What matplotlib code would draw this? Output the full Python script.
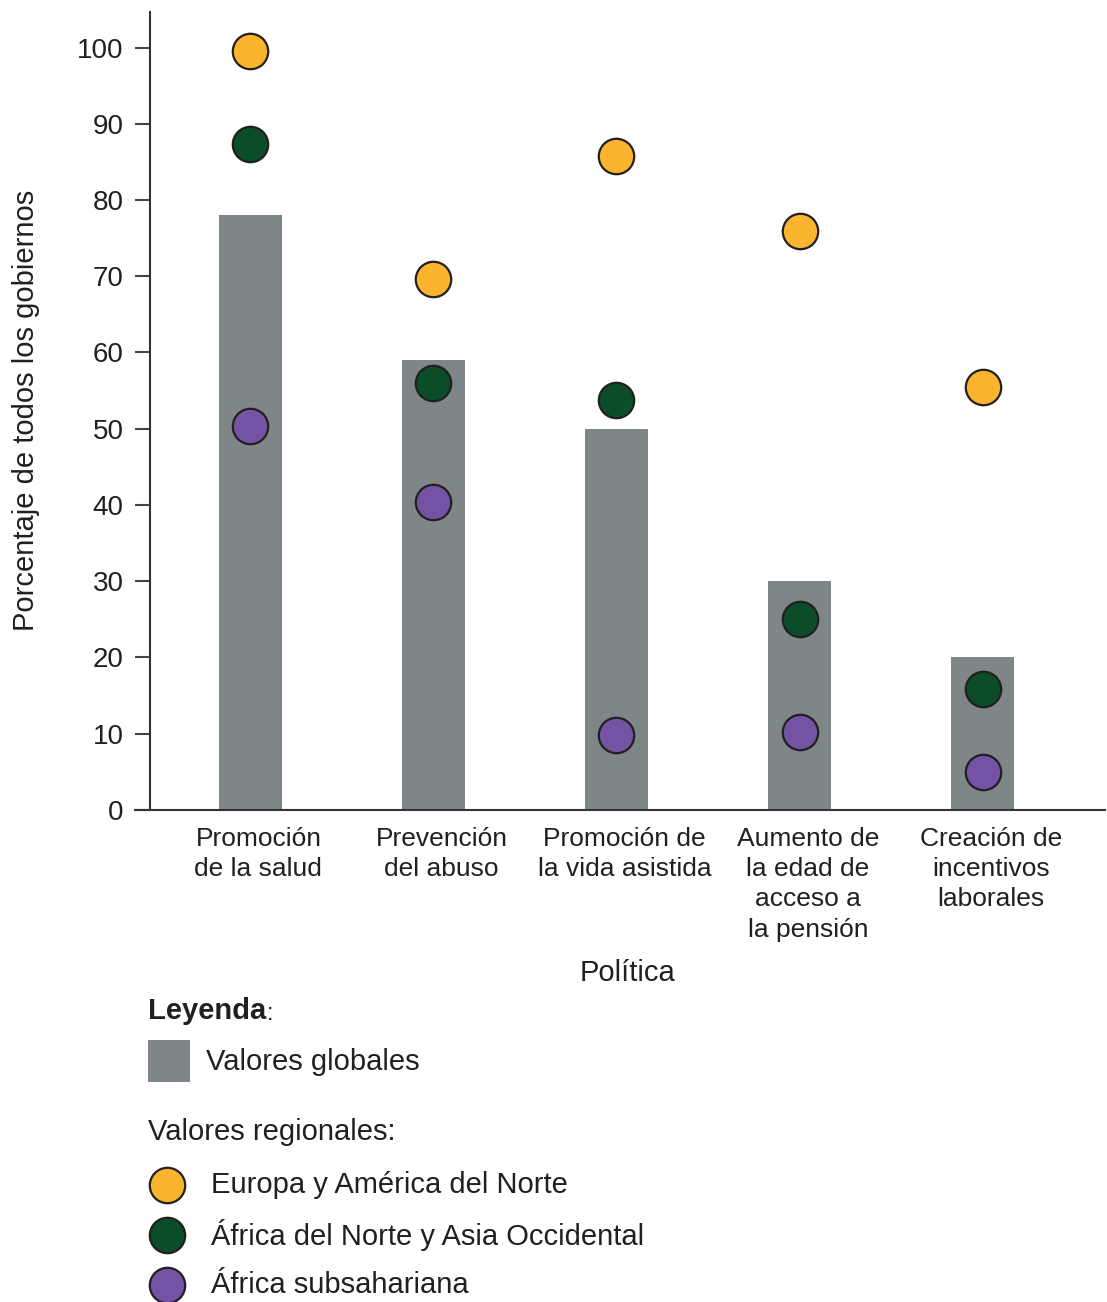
"""Políticas de envejecimiento: valores globales y regionales."""
import matplotlib
matplotlib.use("Agg")
import matplotlib.pyplot as plt
from matplotlib.lines import Line2D
from matplotlib.patches import Rectangle
import numpy as np

plt.rcParams["font.family"] = ["Liberation Sans", "DejaVu Sans"]

categorias = [
    "Promoción\nde la salud",
    "Prevención\ndel abuso",
    "Promoción de\nla vida asistida",
    "Aumento de\nla edad de\nacceso a\nla pensión",
    "Creación de\nincentivos\nlaborales",
]
globales = [78, 59, 50, 30, 20]
europa = [99.6, 69.6, 85.8, 75.9, 55.5]
africa_norte = [87.4, 56.0, 53.8, 25.0, 15.9]
subsahariana = [50.3, 40.4, 9.8, 10.2, 5.0]

GRIS = "#7f8688"
AMARILLO = "#fbb42d"
VERDE = "#0b4d28"
MORADO = "#7452a4"
TINTA = "#231f20"

fig = plt.figure(figsize=(11.07, 13.02), dpi=100)
ax = fig.add_axes([0.1355, 0.378, 0.8625, 0.613])

x = np.arange(len(categorias))
ax.bar(x, globales, width=0.344, color=GRIS, zorder=1)
for serie, color in [(europa, AMARILLO), (africa_norte, VERDE), (subsahariana, MORADO)]:
    ax.plot(x, serie, "o", ms=25.5, mfc=color, mec=TINTA, mew=1.6, ls="none", zorder=3)

ax.set_xlim(-0.547, 4.666)
ax.set_ylim(0, 104.7)
ax.set_yticks(range(0, 101, 10))
# las etiquetas del original quedan un poco a la derecha de cada barra
ax.set_xticks(x + 0.045)
ax.set_xticklabels(categorias, fontsize=19, color=TINTA, linespacing=1.34)
ax.tick_params(axis="x", length=0, pad=12)
ax.tick_params(axis="y", length=11, width=1.5, color="#444444", labelsize=20,
               labelcolor=TINTA, pad=8)
for s in ["top", "right"]:
    ax.spines[s].set_visible(False)
for s in ["left", "bottom"]:
    ax.spines[s].set_linewidth(1.5)
    ax.spines[s].set_color("#333333")
ax.spines["bottom"].set_bounds(-0.547 - 15 / 183.2, 4.666)
ax.set_xlabel("Política", fontsize=21, color=TINTA, labelpad=12)
ax.set_ylabel("Porcentaje de todos los gobiernos", fontsize=21, color=TINTA, labelpad=27)

# leyenda dibujada a mano, en píxeles de la figura
W, H = 1107, 1302


def fx(px):
    return px / W


def fy(py):
    return 1 - py / H


ley = fig.text(fx(148), fy(1011), "Leyenda", fontsize=21, fontweight="bold", color=TINTA,
               va="center", ha="left")
fig.canvas.draw()
bb = ley.get_window_extent()
fig.text(bb.x1 / W + 1 / W, fy(1020), ":", fontsize=17, color=TINTA, va="baseline",
         ha="left")
fig.add_artist(Rectangle((fx(148), fy(1082)), fx(42), 42 / H, transform=fig.transFigure,
                         facecolor=GRIS, edgecolor="none"))
fig.text(fx(206), fy(1062), "Valores globales", fontsize=21, color=TINTA, va="center")
fig.text(fx(148), fy(1132), "Valores regionales:", fontsize=21, color=TINTA, va="center")
regiones = [
    ("Europa y América del Norte", AMARILLO, 1185),
    ("África del Norte y Asia Occidental", VERDE, 1235),
    ("África subsahariana", MORADO, 1285),
]
for nombre, color, py in regiones:
    fig.add_artist(Line2D([fx(167)], [fy(py)], marker="o", ms=25.5, mfc=color, mec=TINTA,
                          mew=1.6, ls="none", transform=fig.transFigure))
    fig.text(fx(211), fy(py), nombre, fontsize=21, color=TINTA, va="center")

fig.savefig("out.png", dpi=100, facecolor="white")
plt.close(fig)
